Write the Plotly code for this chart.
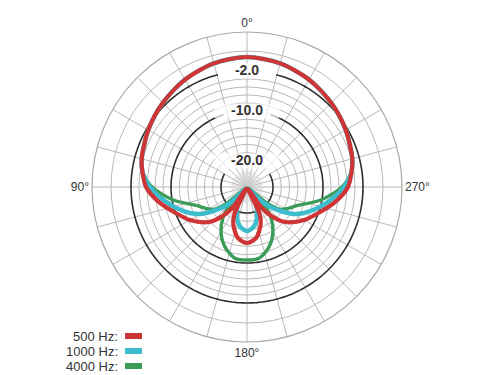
import numpy as np
import plotly.graph_objects as go

# ---------------- data (levels in dB, angle in degrees, 0 = front, 90 = left) -------------
angles_500 = [0, 15, 30, 45, 60, 75, 82, 90, 100, 110, 120, 130, 135, 140, 145, 150, 155, 160, 170, 180,
              190, 200, 205, 210, 215, 220, 225, 230, 240, 250, 260, 270, 278, 285, 300, 315, 330, 345, 360]
level_500 = [0.8, 0.4, -0.4, -1.4, -2.4, -3.4, -4.1, -5.0, -7.4, -10.0, -12.0, -14.2, -15.6, -17.6, -20.2, -24.8, -19.2, -17.2, -14.8, -14.0,
             -14.8, -17.2, -19.2, -24.8, -20.2, -17.6, -15.6, -14.2, -12.0, -10.0, -7.4, -5.0, -4.1, -3.4, -2.4, -1.4, -0.4, 0.4, 0.8]

angles_1000 = [0, 15, 30, 45, 60, 75, 82, 90, 100, 110, 120, 130, 135, 141, 145, 150, 160, 170, 180,
               190, 200, 210, 215, 219, 225, 230, 240, 250, 260, 270, 278, 285, 300, 315, 330, 345, 360]
level_1000 = [0.8, 0.4, -0.4, -1.4, -2.4, -3.4, -4.1, -5.8, -8.6, -11.4, -14.4, -18.8, -21.6, -24.8, -23.8, -22.0, -19.2, -17.2, -16.4,
              -17.2, -19.2, -22.0, -23.8, -24.8, -21.6, -18.8, -14.4, -11.4, -8.6, -5.8, -4.1, -3.4, -2.4, -1.4, -0.4, 0.4, 0.8]

angles_4000 = [0, 15, 30, 45, 60, 75, 82, 90, 100, 110, 118, 124, 129, 133, 137, 142, 150, 160, 170, 180,
               190, 200, 210, 218, 223, 227, 231, 236, 242, 250, 260, 270, 278, 285, 300, 315, 330, 345, 360]
level_4000 = [0.8, 0.4, -0.4, -1.4, -2.4, -3.4, -4.1, -6.2, -10.2, -14.4, -16.0, -17.2, -20.2, -24.8, -20.2, -17.4, -14.8, -12.4, -10.8, -10.6,
              -10.8, -12.4, -14.8, -17.4, -20.2, -24.8, -20.2, -17.2, -16.0, -14.4, -10.2, -6.2, -4.1, -3.4, -2.4, -1.4, -0.4, 0.4, 0.8]

series_names = ["500 Hz:", "1000 Hz:", "4000 Hz:"]
series_colors = ["#cf3535", "#3cbccd", "#3a9c57"]
series_widths = [4.2, 4.5, 3.4]

major_levels = [-2.0, -10.0, -20.0]
major_labels = ["-2.0", "-10.0", "-20.0"]
minor_levels = [-18.33, -16.67, -15.0, -13.33, -11.67, -8.4, -6.8, -5.2, -3.6, 2.0]
angle_ticks = list(range(0, 360, 15))
angle_text = {0: "0°", 90: "90°", 180: "180°", 270: "270°"}

R_MIN, R_MAX = -25.2, 5.8
GRID = "#b9b9b9"
TXT = "#333333"
FONT = "Liberation Sans, Arial, sans-serif"

fig = go.Figure()

# fine fan of spokes near the centre
fan_r, fan_t = [], []
for a in range(0, 360, 5):
    if a % 15:
        fan_r += [R_MIN, -22.0, None]
        fan_t += [a, a, None]
fig.add_trace(go.Scatterpolar(r=fan_r, theta=fan_t, mode="lines",
                              line=dict(color="#d0d0d0", width=0.6), hoverinfo="skip", showlegend=False))

# dark reference rings with a gap behind their labels
gaps = {-2.0: 14.5, -10.0: 18.0, -20.0: 60.0}
for lv in major_levels:
    g = gaps[lv]
    th = np.linspace(g, 360 - g, 240)
    fig.add_trace(go.Scatterpolar(r=[lv] * len(th), theta=th, mode="lines",
                                  line=dict(color="#2e2e2e", width=1.6), hoverinfo="skip", showlegend=False))

# response curves (green under cyan under red)
curves = [(angles_4000, level_4000, 2), (angles_1000, level_1000, 1), (angles_500, level_500, 0)]
for th, lv, i in curves:
    fig.add_trace(go.Scatterpolar(r=lv, theta=th, mode="lines", name=series_names[i],
                                  line=dict(color=series_colors[i], width=series_widths[i],
                                            shape="spline", smoothing=0.8),
                                  hoverinfo="skip", showlegend=False))

# white backing and labels for the dark rings
fig.add_trace(go.Scatterpolar(r=major_levels, theta=[0] * 3, mode="markers",
                              marker=dict(symbol="line-ew", size=[38, 46, 46],
                                          line=dict(color="white", width=15)),
                              hoverinfo="skip", showlegend=False))
fig.add_trace(go.Scatterpolar(r=major_levels, theta=[0] * 3, mode="text", text=major_labels,
                              textposition="middle center",
                              textfont=dict(family=FONT, size=14, color=TXT, weight="bold"),
                              hoverinfo="skip", showlegend=False))

fig.update_layout(
    width=500, height=375,
    margin=dict(l=0, r=0, t=0, b=0),
    paper_bgcolor="white",
    polar=dict(
        domain=dict(x=[92 / 500, 402 / 500], y=[1 - 342 / 375, 1 - 32 / 375]),
        bgcolor="white",
        radialaxis=dict(range=[R_MIN, R_MAX], tickvals=minor_levels, showticklabels=False,
                        ticks="", showline=False, gridcolor=GRID, gridwidth=1),
        angularaxis=dict(rotation=90, direction="counterclockwise",
                         tickvals=angle_ticks,
                         ticktext=[angle_text.get(a, "") for a in angle_ticks],
                         ticks="", showline=True, linecolor="#a9a9a9", linewidth=1.2,
                         gridcolor=GRID, gridwidth=1,
                         tickfont=dict(family=FONT, size=12, color=TXT)),
    ),
)

# legend: label text with coloured swatch to its right
legend_y = [336, 351, 366]
for name, col, yy in zip(series_names, series_colors, legend_y):
    fig.add_annotation(x=120 / 500, y=1 - yy / 375, xref="paper", yref="paper",
                       text=name, showarrow=False, xanchor="right", yanchor="middle",
                       font=dict(family=FONT, size=13, color=TXT))
    fig.add_shape(type="rect", xref="paper", yref="paper",
                  x0=125 / 500, x1=142 / 500, y0=1 - (yy + 3) / 375, y1=1 - (yy - 3) / 375,
                  fillcolor=col, line=dict(width=0))

fig.write_html("out.html")
